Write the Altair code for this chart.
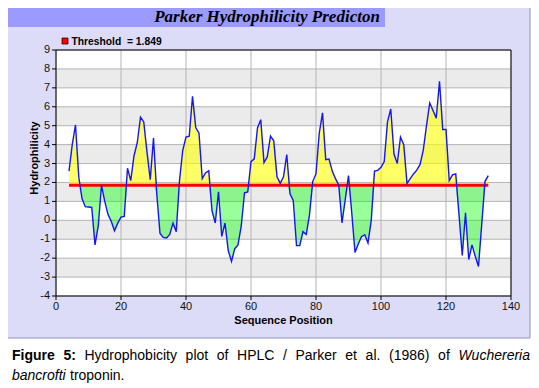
import altair as alt
import pandas as pd

# ---------------- data ----------------
positions = list(range(4, 134))
hydrophilicity = [
    2.6, 4.0, 5.05, 2.3, 1.15, 0.72, 0.7, 0.68, -1.3, -0.3,      # 4-13
    1.85, 1.0, 0.3, -0.05, -0.55, -0.15, 0.17, 0.2, 2.75, 2.1,   # 14-23
    3.4, 4.1, 5.45, 5.2, 3.6, 2.15, 4.35, 1.4, -0.7, -0.9,       # 24-33
    -0.93, -0.75, -0.15, -0.6, 2.1, 3.7, 4.4, 4.45, 6.55, 4.9,   # 34-43
    4.6, 2.2, 2.5, 2.62, 0.5, -0.14, 1.5, -0.85, -0.15, -1.6,    # 44-53
    -2.17, -1.5, -1.3, -0.3, 1.45, 1.5, 3.1, 3.25, 4.88, 5.32,   # 54-63
    3.05, 3.35, 4.45, 4.2, 2.3, 1.95, 2.3, 3.47, 1.4, 1.05,      # 64-73
    -1.34, -1.34, -0.6, -0.75, 0.3, 2.06, 2.45, 4.6, 5.68, 3.2,  # 74-83
    3.24, 2.6, 2.2, 1.85, -0.14, 1.1, 2.36, 0.4, -1.7, -1.25,    # 84-93
    -0.87, -0.76, -1.2, 0.0, 2.6, 2.64, 2.8, 3.1, 5.2, 5.88,     # 94-103
    3.5, 3.0, 4.4, 4.0, 1.95, 2.2, 2.45, 2.65, 2.94, 3.7,        # 104-113
    5.0, 6.2, 5.8, 5.4, 7.35, 4.8, 4.8, 2.1, 2.4, 2.45,          # 114-123
    0.3, -1.86, 0.4, -2.07, -1.3, -1.9, -2.44, -0.2, 2.06, 2.36, # 124-133
]
threshold = 1.849
x_ticks = [0, 20, 40, 60, 80, 100, 120, 140]
x_labels = ["0", "20", "40", "60", "80", "100", "120", "140"]
y_ticks = [-4, -3, -2, -1, 0, 1, 2, 3, 4, 5, 6, 7, 8, 9]
y_labels = ["-4", "-3", "-2", "-1", "0", "1", "2", "3", "4", "5", "6", "7", "8", "9"]
band_lows = [7, 5, 3, 1, -1, -3]

title_text = "Parker Hydrophilicity Predicton"
legend_text = "Threshold\u00a0 = 1.849"
x_title = "Sequence Position"
y_title = "Hydrophilicity"
caption_line1 = ["Figure", "5:", "Hydrophobicity", "plot", "of", "HPLC", "/",
                 "Parker", "et", "al.", "(1986)", "of", "Wuchereria"]
caption_line2 = ["bancrofti", "troponin."]

# ---------------- layout (plot-area pixel coordinates) ----------------
W, H = 455, 246
FONT = "Liberation Sans"
# justified caption: left edge of each word, and its weight/style
cap1_x = [-44, 7.4, 28.4, 129.6, 160.8, 181.1, 227, 239.5, 289.3, 309.6, 333, 382.1, 402.4]
cap1_w = ["bold", "bold"] + ["normal"] * 11
cap1_s = ["normal"] * 12 + ["italic"]
cap2_x = [-44, 14]
cap2_s = ["italic", "normal"]

df = pd.DataFrame({"pos": positions, "h": hydrophilicity})
xs = alt.Scale(domain=[0, 140], nice=False, zero=False)
ys = alt.Scale(domain=[-4, 9], nice=False, zero=False)


def one():
    return alt.Data(values=[{"a": 1}])


frame = alt.Chart(one()).mark_rect(fill="#DCDCF8", stroke="#9090B8", strokeWidth=1).encode(
    x=alt.value(-49), x2=alt.value(474), y=alt.value(-45), y2=alt.value(288))
titlebar = alt.Chart(one()).mark_rect(fill="#9A9AFF").encode(
    x=alt.value(-49), x2=alt.value(329), y=alt.value(-45), y2=alt.value(-23))
title = alt.Chart(one()).mark_text(
    text=title_text, font="Liberation Serif", fontSize=17, fontWeight="bold",
    fontStyle="italic", align="center", baseline="middle", color="black"
).encode(x=alt.value(211), y=alt.value(-33))

leg_sq = alt.Chart(one()).mark_rect(fill="#FF0000", stroke="#300000", strokeWidth=0.8).encode(
    x=alt.value(6), x2=alt.value(12), y=alt.value(-12), y2=alt.value(-6))
leg_tx = alt.Chart(one()).mark_text(
    text=legend_text, font=FONT, fontSize=10.3, fontWeight="bold", align="left",
    baseline="middle", color="black"
).encode(x=alt.value(15.5), y=alt.value(-8))

plotbg = alt.Chart(one()).mark_rect(fill="white").encode(
    x=alt.value(0), x2=alt.value(W), y=alt.value(0), y2=alt.value(H))
bands = alt.Chart(pd.DataFrame({"lo": band_lows})).transform_calculate(
    hi="datum.lo + 1").mark_rect(fill="#EBEBEB").encode(
    x=alt.value(0), x2=alt.value(W),
    y=alt.Y("lo:Q", scale=ys, axis=None), y2="hi:Q")
hgrid = alt.Chart(pd.DataFrame({"v": y_ticks})).mark_rule(color="#B4B4B4", strokeWidth=1).encode(
    x=alt.value(0), x2=alt.value(W), y=alt.Y("v:Q", scale=ys, axis=None))
vgrid = alt.Chart(pd.DataFrame({"v": x_ticks})).mark_rule(color="#B4B4B4", strokeWidth=1).encode(
    x=alt.X("v:Q", scale=xs, axis=None), y=alt.value(0), y2=alt.value(H))

base = alt.Chart(df).transform_calculate(
    above=f"max(datum.h, {threshold})",
    below=f"min(datum.h, {threshold})",
    t=f"{threshold}")
yellow = base.mark_area(color="#FFFF00", opacity=0.6).encode(
    x=alt.X("pos:Q", scale=xs, axis=None), y=alt.Y("above:Q", scale=ys, axis=None), y2="t:Q")
green = base.mark_area(color="#00FF00", opacity=0.4).encode(
    x=alt.X("pos:Q", scale=xs, axis=None), y=alt.Y("below:Q", scale=ys, axis=None), y2="t:Q")

thr = alt.Chart(alt.Data(values=[{"x1": positions[0], "x2": positions[-1], "t": threshold}])).mark_rule(
    color="#FF0000", strokeWidth=3).encode(
    x=alt.X("x1:Q", scale=xs, axis=None), x2="x2:Q", y=alt.Y("t:Q", scale=ys, axis=None))

line = alt.Chart(df).mark_line(color="#1414FF", strokeWidth=1.4).encode(
    x=alt.X("pos:Q", scale=xs, axis=None),
    y=alt.Y("h:Q", scale=ys, axis=None))

border = alt.Chart(one()).mark_rect(fillOpacity=0, stroke="black", strokeWidth=1).encode(
    x=alt.value(0), x2=alt.value(W), y=alt.value(0), y2=alt.value(H))

# hand-built axes (ticks + labels from the tick lists, through the scales)
ydf = pd.DataFrame({"v": y_ticks, "lbl": y_labels})
xdf = pd.DataFrame({"v": x_ticks, "lbl": x_labels})
ytick = alt.Chart(ydf).mark_rule(color="black", strokeWidth=1).encode(
    x=alt.value(-4), x2=alt.value(0), y=alt.Y("v:Q", scale=ys, axis=None))
ylab = alt.Chart(ydf).mark_text(font=FONT, fontSize=11, align="right", baseline="middle",
                                color="#111111").encode(
    x=alt.value(-6), y=alt.Y("v:Q", scale=ys, axis=None), text="lbl:N")
xtick = alt.Chart(xdf).mark_rule(color="black", strokeWidth=1).encode(
    x=alt.X("v:Q", scale=xs, axis=None), y=alt.value(H), y2=alt.value(H + 4))
xlab = alt.Chart(xdf).mark_text(font=FONT, fontSize=11, align="center", baseline="middle",
                                color="#111111").encode(
    x=alt.X("v:Q", scale=xs, axis=None), y=alt.value(H + 11), text="lbl:N")
xtitle = alt.Chart(one()).mark_text(text=x_title, font=FONT, fontSize=11, fontWeight="bold",
                                    align="center", baseline="middle", color="black").encode(
    x=alt.value(W / 2), y=alt.value(H + 25))
ytitle = alt.Chart(one()).mark_text(text=y_title, font=FONT, fontSize=11, fontWeight="bold",
                                    align="center", baseline="middle", angle=270,
                                    color="black").encode(
    x=alt.value(-21), y=alt.value(108))


def cap(text, x, y, weight="normal", style="normal"):
    return alt.Chart(one()).mark_text(
        text=text, font=FONT, fontSize=14, fontWeight=weight, fontStyle=style,
        align="left", baseline="middle", color="black").encode(x=alt.value(x), y=alt.value(y))


caption = [cap(t, x, 306, w, s) for t, x, w, s in zip(caption_line1, cap1_x, cap1_w, cap1_s)]
caption += [cap(t, x, 326, "normal", s) for t, x, s in zip(caption_line2, cap2_x, cap2_s)]

chart = alt.layer(
    frame, titlebar, title, leg_sq, leg_tx, plotbg, bands, hgrid, vgrid,
    yellow, green, thr, line, border, ytick, ylab, xtick, xlab, xtitle, ytitle, *caption
).properties(
    width=W, height=H,
    padding={"left": 48, "top": 42, "right": 20, "bottom": 90},
    autosize=alt.AutoSizeParams(type="none"),
).configure_view(stroke=None)

chart.save("out.html", embed_options={"renderer": "svg", "actions": False})
